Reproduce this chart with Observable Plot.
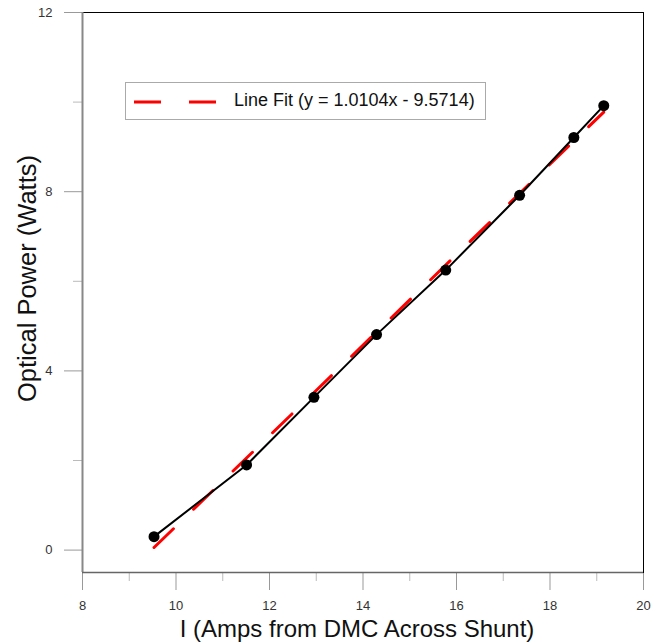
<!DOCTYPE html>
<html>
<head>
<meta charset="utf-8">
<script src="https://cdn.jsdelivr.net/npm/d3@7"></script>
<script src="https://cdn.jsdelivr.net/npm/@observablehq/plot@0.6"></script>
<style>
  html, body { margin: 0; padding: 0; background: #fff; }
  #wrap { position: relative; width: 657px; height: 644px; font-family: Arial, "Liberation Sans", sans-serif; }
  #legend { position: absolute; left: 125px; top: 82px; width: 361px; height: 38px; border: 1px solid #aaa; background: #fff; box-sizing: border-box; }
  #legend svg { position: absolute; left: 0; top: 0; }
  #legend span { position: absolute; left: 108px; top: 7px; font-size: 18px; color: #111; white-space: nowrap; }
</style>
</head>
<body>
<div id="wrap">
  <div id="chart"></div>
  <div id="legend">
    <svg width="100" height="38"><line x1="8" y1="19" x2="92" y2="19" stroke="#ff0000" stroke-width="3" stroke-dasharray="27,28"/></svg>
    <span id="legendText"></span>
  </div>
</div>
<script>
// Measured current (A) and optical power (W)
const current = [9.53, 11.51, 12.95, 14.29, 15.77, 17.35, 18.51, 19.15];
const power   = [0.30, 1.90, 3.41, 4.81, 6.25, 7.92, 9.21, 9.92];

// Linear fit parameters
const fitSlope = 1.0104;
const fitIntercept = -9.5714;
const fitLabel = "Line Fit (y = 1.0104x - 9.5714)";

// Axis ticks
const xMajor = [8, 10, 12, 14, 16, 18, 20];
const xMinor = [9, 11, 13, 15, 17, 19];
const yMajor = [0, 4, 8, 12];
const yMinor = [2, 6, 10];

const xTitle = "I (Amps from DMC Across Shunt)";
const yTitle = "Optical Power (Watts)";

const data = current.map((x, i) => ({x, y: power[i]}));
const xExt = d3.extent(current);
const fit = xExt.map(x => ({x, y: fitSlope * x + fitIntercept}));

document.getElementById("legendText").textContent = fitLabel;

const chart = Plot.plot({
  width: 657,
  height: 644,
  marginLeft: 82,
  marginRight: 14,
  marginTop: 12,
  marginBottom: 72,
  style: {fontFamily: "Arial, 'Liberation Sans', sans-serif", background: "#fff", overflow: "visible"},
  x: {domain: [8, 20]},
  y: {domain: [-0.5, 12]},
  marks: [
    Plot.axisX(xMajor, {tickSize: 18, tickPadding: 10, fontSize: 13, stroke: "#999", fill: "#333", label: null}),
    Plot.axisX(xMinor, {tickSize: 9, text: null, stroke: "#bbb", label: null}),
    Plot.axisY(yMajor, {tickSize: 18, tickPadding: 12, fontSize: 13, stroke: "#999", fill: "#333", label: null}),
    Plot.axisY(yMinor, {tickSize: 9, text: null, stroke: "#bbb", label: null}),
    Plot.frame({stroke: "#000", strokeWidth: 1}),
    Plot.ruleX([8], {stroke: "#888", strokeWidth: 2}),
    Plot.ruleY([-0.5], {stroke: "#666", strokeWidth: 1.5}),
    Plot.line(fit, {x: "x", y: "y", stroke: "#ff0000", strokeWidth: 3, strokeDasharray: "27,28"}),
    Plot.line(data, {x: "x", y: "y", stroke: "#000", strokeWidth: 2}),
    Plot.dot(data, {x: "x", y: "y", r: 5.5, fill: "#000"}),
    Plot.text([xTitle], {frameAnchor: "bottom", textAnchor: "middle", dx: -6, dy: 64, fontSize: 24, fill: "#111"}),
    Plot.text([yTitle], {frameAnchor: "left", textAnchor: "middle", dx: -55, dy: -14, rotate: -90, fontSize: 25.5, fill: "#111"})
  ]
});
document.getElementById("chart").appendChild(chart);
</script>
</body>
</html>
